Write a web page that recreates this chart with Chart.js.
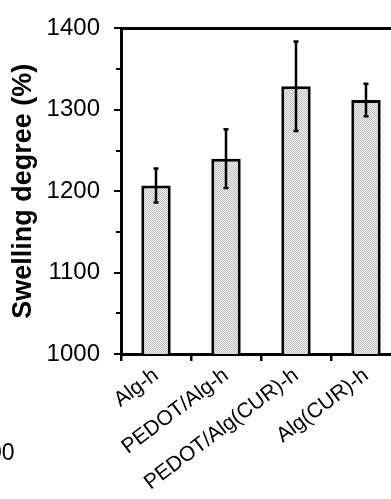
<!DOCTYPE html>
<html>
<head>
<meta charset="utf-8">
<script src="https://cdn.jsdelivr.net/npm/chart.js@4/dist/chart.umd.min.js"></script>
<style>
  html, body { margin: 0; padding: 0; background: #fff; overflow: hidden; }
  #wrap { position: relative; width: 410px; height: 499px; }
  #cut { position: absolute; left: -45.5px; top: 438.5px; width: 60px; text-align: right;
         font: 23px "Liberation Sans", Arial, sans-serif; color: #000; }
</style>
</head>
<body>
<div id="wrap">
  <canvas id="chart" width="410" height="499"></canvas>
  <div id="cut">1000</div>
</div>
<script>
const categories = ['Alg-h', 'PEDOT/Alg-h', 'PEDOT/Alg(CUR)-h', 'Alg(CUR)-h'];
const swelling = [1207, 1240, 1329, 1312];
const swellingErr = [21, 36, 55, 20];
const yMin = 1000;
const yMax = 1400;
const yStep = 100;
const minorTicks = [1050, 1150, 1250, 1350];

function makePattern() {
    const c = document.createElement('canvas');
    c.width = 2; c.height = 2;
    const g = c.getContext('2d');
    g.fillStyle = '#e8e8e8'; g.fillRect(0, 0, 2, 2);
    g.fillStyle = '#c8c8c8'; g.fillRect(0, 0, 1, 1); g.fillRect(1, 1, 1, 1);
    return g.createPattern(c, 'repeat');
}

const errorBars = {
    id: 'errorBars',
    afterDatasetsDraw(chart) {
        const ctx = chart.ctx;
        const meta = chart.getDatasetMeta(0);
        const y = chart.scales.y;
        ctx.save();
        ctx.strokeStyle = '#000';
        ctx.lineWidth = 2.5;
        meta.data.forEach((bar, i) => {
            const hi = y.getPixelForValue(swelling[i] + swellingErr[i]);
            const lo = y.getPixelForValue(swelling[i] - swellingErr[i]);
            ctx.beginPath();
            ctx.moveTo(bar.x, hi); ctx.lineTo(bar.x, lo);
            ctx.moveTo(bar.x - 2.5, hi); ctx.lineTo(bar.x + 2.5, hi);
            ctx.moveTo(bar.x - 2.5, lo); ctx.lineTo(bar.x + 2.5, lo);
            ctx.stroke();
        });
        ctx.restore();
    }
};

// top frame line + minor y ticks
const frame = {
    id: 'frame',
    afterDraw(chart) {
        const ctx = chart.ctx;
        const a = chart.chartArea;
        const y = chart.scales.y;
        ctx.save();
        ctx.strokeStyle = '#000';
        ctx.lineWidth = 3;
        ctx.beginPath();
        ctx.moveTo(a.left, a.top); ctx.lineTo(a.right, a.top); ctx.lineTo(a.right, a.bottom);
        ctx.stroke();
        ctx.lineWidth = 2;
        ctx.beginPath();
        minorTicks.forEach(v => {
            const p = Math.round(y.getPixelForValue(v));
            ctx.moveTo(a.left - 5, p); ctx.lineTo(a.left, p);
        });
        ctx.stroke();
        ctx.restore();
    }
};

const font = '"Liberation Sans", Arial, sans-serif';

new Chart(document.getElementById('chart'), {
    type: 'bar',
    data: {
        labels: categories,
        datasets: [{
            data: swelling,
            backgroundColor: makePattern(),
            borderColor: '#000',
            borderWidth: 3,
            borderSkipped: 'bottom',
            barPercentage: 0.42,
            categoryPercentage: 1.0
        }]
    },
    options: {
        responsive: false,
        animation: false,
        layout: { padding: { top: 23, right: 9, left: 0, bottom: 0 } },
        plugins: { legend: { display: false }, tooltip: { enabled: false } },
        scales: {
            x: {
                offset: true,
                grid: { display: true, drawOnChartArea: false, drawTicks: true, tickLength: 7,
                        color: '#000', lineWidth: 2.5, offset: true },
                border: { display: true, color: '#000', width: 3 },
                ticks: { color: '#000', font: { family: font, size: 21 }, minRotation: 37,
                         maxRotation: 37, padding: 2, autoSkip: false },
                afterFit(scale) { scale.height = 145; }
            },
            y: {
                min: yMin,
                max: yMax,
                grid: { display: true, drawOnChartArea: false, drawTicks: true, tickLength: 7,
                        color: '#000', lineWidth: 2 },
                border: { display: true, color: '#000', width: 3 },
                ticks: { stepSize: yStep, color: '#000', font: { family: font, size: 24 }, padding: 14,
                         callback: v => String(v) },
                title: { display: true, text: 'Swelling degree (%)', color: '#000',
                         font: { family: font, size: 27, weight: 'bold' }, padding: { top: 7, bottom: 0 } },
                afterFit(scale) { scale.width = 121; }
            }
        }
    },
    plugins: [errorBars, frame]
});
</script>
</body>
</html>
